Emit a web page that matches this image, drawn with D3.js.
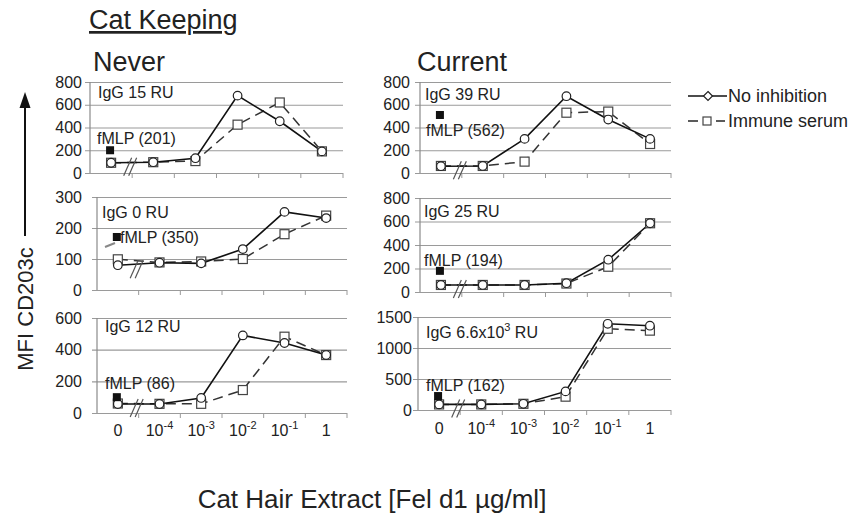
<!DOCTYPE html>
<html>
<head>
<meta charset="utf-8">
<script src="https://cdn.jsdelivr.net/npm/d3@7"></script>
<style>
	body { margin: 0; background: #fff; }
	text { font-family: "Liberation Sans", Arial, Helvetica, sans-serif; fill: #222; }
</style>
</head>
<body>
<svg id="chart" width="856" height="515"></svg>
<script>
"use strict";

// == DATA ==
var categories = ["0", "1e-4", "1e-3", "1e-2", "1e-1", "1"];
var tickBase = ["0", "10", "10", "10", "10", "1"];
var tickExp = ["", "-4", "-3", "-2", "-1", ""];

// Never keeping cats
var neverNoInh15 = [90, 95, 130, 680, 455, 190];
var neverImm15 = [90, 95, 105, 425, 620, 190];
var neverNoInh0 = [80, 88, 86, 132, 252, 232];
var neverImm0 = [99, 89, 92, 100, 180, 240];
var neverNoInh12 = [57, 57, 95, 490, 442, 366];
var neverImm12 = [60, 58, 58, 145, 482, 366];

// Current cat keeping
var currNoInh39 = [60, 62, 300, 675, 470, 300];
var currImm39 = [62, 62, 100, 530, 540, 255];
var currNoInh25 = [60, 60, 60, 75, 275, 585];
var currImm25 = [60, 60, 60, 72, 215, 585];
var currNoInh66 = [90, 90, 100, 300, 1390, 1360];
var currImm66 = [90, 90, 100, 215, 1310, 1280];

// fMLP positive control (label value, and where the black marker sits)
var fmlpValues = [201, 350, 86, 562, 194, 162];
var fmlpMarker = [200, 171, 100, 510, 180, 225];

var iggLabels = ["IgG 15 RU", "IgG 0 RU", "IgG 12 RU", "IgG 39 RU", "IgG 25 RU", "IgG 6.6x10|3| RU"];
var yMaxes = [800, 300, 600, 800, 800, 1500];
var ySteps = [200, 100, 200, 200, 200, 500];

var seriesNames = ["No inhibition", "Immune serum"];

// == LAYOUT == (scanned figure, panels are not perfectly aligned)
var panels = [
	{ noInh: neverNoInh15, imm: neverImm15, x0: 90, x1: 343, y0: 82, y1: 173, labelX: 82, igg: [98, 98], fm: [97, 144], xlab: false },
	{ noInh: neverNoInh0, imm: neverImm0, x0: 97, x1: 347, y0: 197, y1: 290, labelX: 82, igg: [102, 218], fm: [120, 243], xlab: false },
	{ noInh: neverNoInh12, imm: neverImm12, x0: 97, x1: 347, y0: 318, y1: 413, labelX: 82, igg: [105, 332], fm: [105, 389], xlab: true, xlabY: 436 },
	{ noInh: currNoInh39, imm: currImm39, x0: 420, x1: 671, y0: 82, y1: 173, labelX: 410, igg: [425, 100], fm: [426, 136], xlab: false },
	{ noInh: currNoInh25, imm: currImm25, x0: 420, x1: 671, y0: 198, y1: 292, labelX: 410, igg: [424, 217], fm: [424, 266], xlab: false },
	{ noInh: currNoInh66, imm: currImm66, x0: 418, x1: 671, y0: 317, y1: 410, labelX: 412, igg: [426, 338], fm: [426, 391], xlab: true, xlabY: 434 }
];

var svg = d3.select("#chart");

// headings
svg.append("text").attr("x", 89).attr("y", 29).attr("font-size", 27)
	.attr("text-decoration", "underline").text("Cat Keeping");
svg.append("text").attr("x", 93).attr("y", 71).attr("font-size", 27).text("Never");
svg.append("text").attr("x", 417).attr("y", 71).attr("font-size", 27).text("Current");

// y title with arrow
svg.append("text")
	.attr("transform", "translate(33,309) rotate(-90)")
	.attr("text-anchor", "middle").attr("font-size", 22).text("MFI CD203c");
svg.append("line").attr("x1", 25).attr("x2", 25).attr("y1", 236).attr("y2", 104)
	.attr("stroke", "#111").attr("stroke-width", 2);
svg.append("path").attr("d", "M25,92 L19.5,108 L30.5,108 Z").attr("fill", "#111");

// x title
svg.append("text").attr("x", 372).attr("y", 508).attr("text-anchor", "middle")
	.attr("font-size", 26).text("Cat Hair Extract [Fel d1 \u00b5g/ml]");

function drawPanel(p, k) {
	var g = svg.append("g");
	var x = d3.scalePoint().domain(categories).range([p.x0, p.x1]).padding(0.5);
	var step = x.step();
	var y = d3.scaleLinear().domain([0, yMaxes[k]]).range([p.y1, p.y0]);
	var ticks = d3.range(0, yMaxes[k] + 1, ySteps[k]);

	// gridlines + y labels
	var ax = g.append("g").attr("transform", "translate(" + p.x0 + ",0)")
		.call(d3.axisLeft(y).tickValues(ticks).tickSize(-(p.x1 - p.x0))
			.tickPadding(p.x0 - p.labelX).tickFormat(d3.format("d")));
	ax.select(".domain").remove();
	ax.selectAll("line").attr("x1", -5).attr("stroke", "#9a9a9a").attr("stroke-width", 1.2);
	ax.selectAll("text").attr("font-size", 16).attr("fill", "#333");

	g.append("line").attr("x1", p.x0).attr("x2", p.x0).attr("y1", p.y0).attr("y2", p.y1)
		.attr("stroke", "#8a8a8a").attr("stroke-width", 1.2);

	// little ticks between categories
	g.selectAll(".xt").data(d3.range(1, categories.length + 1)).enter().append("line")
		.attr("x1", function (i) { return p.x0 + i * step; })
		.attr("x2", function (i) { return p.x0 + i * step; })
		.attr("y1", p.y1).attr("y2", p.y1 + 5)
		.attr("stroke", "#9a9a9a").attr("stroke-width", 1);

	var line = d3.line()
		.x(function (d, i) { return x(categories[i]); })
		.y(function (d) { return y(d); });

	g.append("path").attr("d", line(p.imm)).attr("fill", "none")
		.attr("stroke", "#333").attr("stroke-width", 1.5).attr("stroke-dasharray", "10,6");
	g.append("path").attr("d", line(p.noInh)).attr("fill", "none")
		.attr("stroke", "#111").attr("stroke-width", 1.6);

	// axis break slashes
	var cx = p.x0 + step - 2, cy = y(p.noInh[0]) + 4;
	[-2.5, 2.5].forEach(function (o) {
		g.append("line")
			.attr("x1", cx + o - 4).attr("y1", cy + 9)
			.attr("x2", cx + o + 4).attr("y2", cy - 9)
			.attr("stroke", "#555").attr("stroke-width", 1.2);
	});

	g.selectAll(".sq").data(p.imm).enter().append("rect")
		.attr("x", function (d, i) { return x(categories[i]) - 4.5; })
		.attr("y", function (d) { return y(d) - 4.5; })
		.attr("width", 9).attr("height", 9)
		.attr("fill", "#fff").attr("stroke", "#444").attr("stroke-width", 1.2);
	g.selectAll(".ci").data(p.noInh).enter().append("circle")
		.attr("cx", function (d, i) { return x(categories[i]); })
		.attr("cy", function (d) { return y(d); })
		.attr("r", 4.3)
		.attr("fill", "#fff").attr("stroke", "#222").attr("stroke-width", 1.2);

	// fMLP control
	if (k === 1) {
		g.append("line").attr("x1", p.x0 + 8).attr("y1", y(fmlpMarker[k]) + 10)
			.attr("x2", p.x0 + 18).attr("y2", y(fmlpMarker[k]) + 6)
			.attr("stroke", "#888").attr("stroke-width", 2);
	}
	g.append("rect")
		.attr("x", x(categories[0]) - 5).attr("y", y(fmlpMarker[k]) - 4)
		.attr("width", 8).attr("height", 8).attr("fill", "#111");
	g.append("text").attr("x", p.fm[0]).attr("y", p.fm[1]).attr("font-size", 16)
		.text("fMLP (" + fmlpValues[k] + ")");

	// IgG label, "|" marks a superscript
	var parts = iggLabels[k].split("|");
	var t = g.append("text").attr("x", p.igg[0]).attr("y", p.igg[1]).attr("font-size", 16);
	t.append("tspan").text(parts[0]);
	if (parts.length > 1) {
		t.append("tspan").attr("font-size", 11).attr("dy", -7).text(parts[1]);
		t.append("tspan").attr("dy", 7).text(parts[2]);
	}

	if (p.xlab) {
		categories.forEach(function (c, i) {
			var tt = g.append("text").attr("x", x(c)).attr("y", p.xlabY)
				.attr("text-anchor", "middle").attr("font-size", 16);
			tt.append("tspan").text(tickBase[i]);
			if (tickExp[i]) tt.append("tspan").attr("font-size", 11).attr("dy", -7).text(tickExp[i]);
		});
	}
}

panels.forEach(drawPanel);

// legend
var lg = svg.append("g");
lg.append("line").attr("x1", 688).attr("x2", 727).attr("y1", 96).attr("y2", 96)
	.attr("stroke", "#111").attr("stroke-width", 1.6);
lg.append("path").attr("d", "M708,91.5 L712.5,96 L708,100.5 L703.5,96 Z")
	.attr("fill", "#fff").attr("stroke", "#222").attr("stroke-width", 1.2);
lg.append("text").attr("x", 728).attr("y", 102).attr("font-size", 18).text(seriesNames[0]);

lg.append("line").attr("x1", 688).attr("x2", 698).attr("y1", 121).attr("y2", 121)
	.attr("stroke", "#333").attr("stroke-width", 1.6);
lg.append("line").attr("x1", 716).attr("x2", 725).attr("y1", 121).attr("y2", 121)
	.attr("stroke", "#333").attr("stroke-width", 1.6);
lg.append("rect").attr("x", 703).attr("y", 117).attr("width", 8).attr("height", 8)
	.attr("fill", "#fff").attr("stroke", "#444").attr("stroke-width", 1.2);
lg.append("text").attr("x", 728).attr("y", 127).attr("font-size", 18).text(seriesNames[1]);
</script>
</body>
</html>
